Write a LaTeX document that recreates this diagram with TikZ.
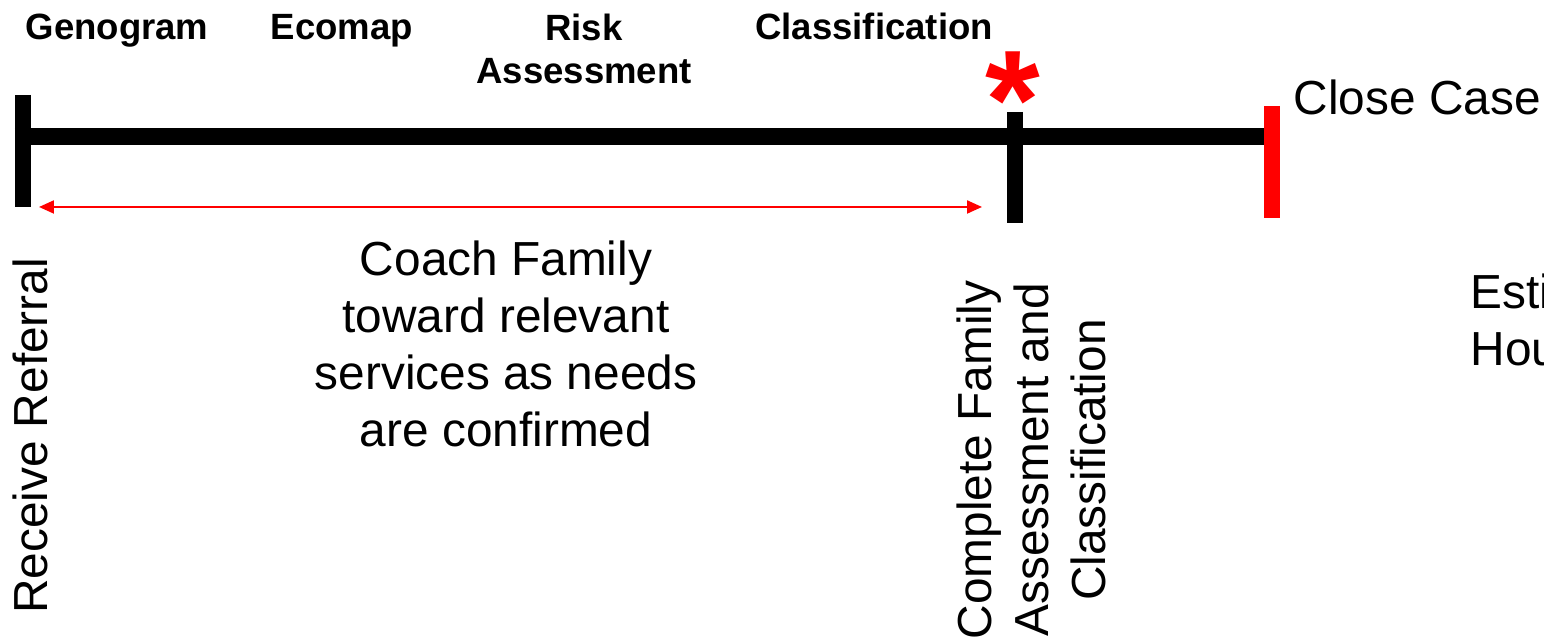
\documentclass[tikz,border=0pt]{standalone}
\usepackage{fontspec}
\setmainfont{Liberation Sans}
\usetikzlibrary{arrows.meta,positioning}
\tikzset{>={Triangle[length=0.15cm,width=0.13cm]}}
\tikzset{
  step label/.style={inner sep=0pt, font=\fontsize{10.4}{12.3}\selectfont\bfseries, align=center},
  plain label/.style={inner sep=0pt, font=\fontsize{13.6}{16.2}\selectfont, align=center},
  tickline/.style={line width=0.16cm},
}

\begin{document}
\begin{tikzpicture}
\useasboundingbox (0,0) rectangle (15.44,6.42);
% main time line
\coordinate (start) at (0.15,5.05);
\coordinate (stop) at (12.64,5.05);
\draw[line width=0.17cm] (start) -- (stop);
% ticks
\coordinate (refTop) at (0.23,5.47);
\coordinate (refBot) at (0.23,4.35);
\draw[tickline] (refTop) -- (refBot);
\coordinate (asmTop) at (10.145,5.30);
\coordinate (asmBot) at (10.145,4.19);
\draw[tickline] (asmTop) -- (asmBot);
\coordinate (closeTop) at (12.72,5.36);
\coordinate (closeBot) at (12.72,4.24);
\draw[tickline, red] (closeTop) -- (closeBot);
% star
\node[inner sep=0pt, anchor=base, red, font=\fontsize{40}{40}\selectfont\bfseries] (star) at (10.13,4.93) {*};
%%%%%%%%%%
\node[step label, anchor=base] (geno) at (1.17,6.02) {Genogram};
\node[step label, anchor=base] (eco) at (3.42,6.02) {Ecomap};
\node[step label, anchor=north] (risk) at (5.84,6.29) {Risk\\Assessment};
\node[step label, anchor=base] (cls) at (8.74,6.02) {Classification};
\node[plain label, anchor=base west] (close) at (12.93,5.27) {Close Case};
%%%%%%%%%%
\coordinate (arrL) at (0.39,4.35);
\coordinate (arrR) at (9.82,4.35);
\draw[red, line width=0.6pt, <->] (arrL) -- (arrR);
\node[plain label, anchor=north] (coach) at (5.06,4.02) {Coach Family\\toward relevant\\services as needs\\are confirmed};
\node[plain label, rotate=90] (receive) at (0.30,2.06) {Receive Referral};
\node[plain label, rotate=90] (complete) at (10.31,1.82) {Complete Family\\Assessment and\\Classification};
\node[plain label, anchor=north west, align=left] (est) at (14.70,3.69) {Esti\\Hou};
\end{tikzpicture}
\end{document}
